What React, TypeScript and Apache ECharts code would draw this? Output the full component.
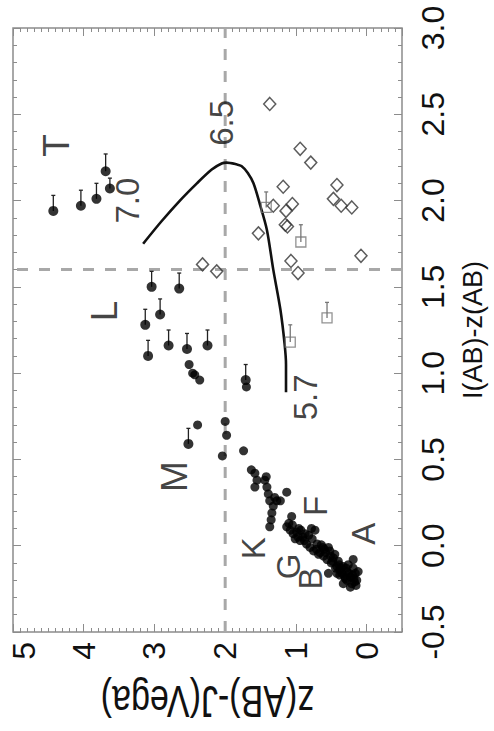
import React, { useEffect, useRef } from "react";
import * as echarts from "echarts";

// z(AB)-J(Vega) , I(AB)-z(AB)
const mainSequence: number[][] = [
  [1.74, 0.55], [1.63, 0.44], [1.58, 0.42], [1.55, 0.38], [1.58, 0.34], [1.44, 0.38], [1.41, 0.34],
  [1.39, 0.30], [1.37, 0.26], [1.32, 0.23], [1.34, 0.19], [1.27, 0.26], [1.22, 0.26], [1.13, 0.31],
  [1.37, 0.11], [1.06, 0.17], [1.30, 0.28], [1.35, 0.15], [1.42, 0.40],
  [1.13, 0.11], [1.08, 0.09], [1.04, 0.07], [0.99, 0.08], [1.01, 0.04], [0.94, 0.03], [0.90, 0.05],
  [0.85, 0.01], [0.80, -0.01], [0.78, 0.10], [0.73, 0.09], [0.75, -0.03], [0.71, -0.02], [0.66, -0.04],
  [0.61, -0.06], [0.56, -0.08], [0.54, -0.01], [0.52, -0.03], [0.50, -0.10], [0.47, -0.07], [0.42, -0.12],
  [0.40, -0.09], [0.38, -0.14], [0.35, -0.16], [0.33, -0.12], [0.28, -0.15], [0.23, -0.18], [0.19, -0.08],
  [0.16, -0.16], [0.14, -0.20], [0.21, -0.22], [0.28, -0.20], [0.38, -0.17], [0.54, -0.16], [0.42, -0.16],
  [0.31, -0.18], [0.19, -0.13], [0.93, 0.09], [0.82, 0.06], [0.64, 0.005], [0.60, -0.02], [0.45, -0.05],
  [0.26, -0.11], [0.12, -0.15], [0.23, -0.24], [0.33, -0.22], [1.10, 0.13], [0.97, 0.05], [0.88, 0.03],
  [0.70, 0.01], [0.68, -0.05], [0.58, -0.04], [0.48, -0.09], [0.44, -0.13], [0.36, -0.13], [0.30, -0.19],
  [0.25, -0.16], [0.18, -0.19], [0.15, -0.23], [0.20, -0.17], [1.05, 0.12], [0.96, 0.10], [0.87, 0.07],
  [0.77, 0.04], [0.62, -0.01], [0.51, -0.06], [0.39, -0.11], [0.29, -0.13], [0.17, -0.21],
  [2.39, 0.70], [2.00, 0.72], [1.98, 0.64], [2.04, 0.52], [2.51, 1.05], [2.46, 1.00], [2.43, 0.99],
  [2.36, 0.96], [1.70, 0.92],
];

// [z-J, I-z, upper error]
const ultracool: number[][] = [
  [4.43, 1.94, 0.09], [4.04, 1.97, 0.09], [3.82, 2.01, 0.09], [3.69, 2.17, 0.10], [3.63, 2.07, 0.06],
  [3.04, 1.50, 0.09], [2.65, 1.49, 0.09], [2.92, 1.34, 0.09], [3.13, 1.28, 0.09], [3.09, 1.10, 0.09],
  [2.80, 1.16, 0.09], [2.54, 1.14, 0.09], [2.25, 1.16, 0.09],
  [2.52, 0.59, 0.09], [1.71, 0.96, 0.09],
];

const diamonds: number[][] = [
  [1.37, 2.56], [0.94, 2.30], [0.79, 2.22], [1.18, 2.08], [0.42, 2.09], [1.32, 1.97], [1.05, 1.98],
  [0.47, 2.01], [0.36, 1.97], [0.21, 1.96], [1.14, 1.94], [1.15, 1.86], [1.12, 1.85], [1.53, 1.81],
  [0.08, 1.68], [1.07, 1.65], [0.97, 1.58], [2.32, 1.63], [2.12, 1.59],
];

const squares: number[][] = [
  [1.42, 1.96, 0.09], [0.93, 1.76, 0.10], [0.56, 1.32, 0.09], [1.08, 1.18, 0.10],
];

const modelTrack: number[][] = [
  [3.16, 1.75], [2.90, 1.88], [2.64, 2.00], [2.40, 2.10], [2.19, 2.18], [2.05, 2.215], [1.98, 2.22],
  [1.84, 2.21], [1.77, 2.20], [1.68, 2.16], [1.60, 2.10], [1.51, 1.98], [1.41, 1.83], [1.32, 1.60],
  [1.22, 1.37], [1.16, 1.17], [1.14, 1.05], [1.14, 0.89],
];

const bigLabels = [
  { name: "T", value: [4.38, 2.32] },
  { name: "L", value: [3.70, 1.36] },
  { name: "M", value: [2.71, 0.40] },
];

const smallLabels = [
  { name: "K", value: [1.60, -0.015] },
  { name: "G", value: [1.11, -0.12] },
  { name: "B", value: [0.80, -0.19] },
  { name: "F", value: [0.73, 0.23] },
  { name: "A", value: [0.05, 0.07] },
];

const trackLabels = [
  { name: "6.5", value: [2.05, 2.45] },
  { name: "7.0", value: [3.38, 2.0] },
  { name: "5.7", value: [0.87, 0.86] },
];

const zjRange = [-0.5, 5];
const izRange = [-0.5, 3];
const guideZJ = 2;
const guideIZ = 1.6;
const xTitle = "z(AB)-J(Vega)";
const yTitle = "I(AB)-z(AB)";

const FONT = "'Liberation Sans', Arial, sans-serif";
const GRAY = "#8c8c8c";
const GRID = { left: 13, top: 28, width: 389, height: 604 };

export default function App() {
  const ref = useRef<HTMLDivElement>(null);
  useEffect(() => {
    const chart = echarts.init(ref.current!, null, { renderer: "svg" });
    const majorX = (pos: string, labels: boolean) => ({
      type: "value",
      position: pos,
      min: zjRange[0],
      max: zjRange[1],
      inverse: true,
      axisLine: { show: false, onZero: false },
      splitLine: { show: false },
      axisTick: { show: true, inside: true, length: 8, lineStyle: { color: GRAY, width: 1 } },
      axisLabel: labels
        ? {
            show: true,
            rotate: 90,
            showMinLabel: false,
            margin: 10,
            fontSize: 32,
            color: "#111",
            fontFamily: FONT,
            formatter: (v: number) => (v === zjRange[1] ? `{edge|${v}}` : String(v)),
            rich: {
              edge: { padding: [22, 0, 0, 0], fontSize: 32, color: "#111", fontFamily: FONT },
            },
          }
        : { show: false },
    });
    const minorX = (pos: string) => ({
      type: "value",
      position: pos,
      min: zjRange[0],
      max: zjRange[1],
      interval: 0.1,
      inverse: true,
      axisLine: { show: false, onZero: false },
      splitLine: { show: false },
      axisTick: { show: true, inside: true, length: 4, lineStyle: { color: GRAY, width: 1 } },
      axisLabel: { show: false },
    });
    const yAx = (pos: string, labels: boolean) => ({
      type: "value",
      position: pos,
      min: izRange[0],
      max: izRange[1],
      interval: 0.5,
      axisLine: { show: false, onZero: false },
      splitLine: { show: false },
      axisTick: { show: true, inside: true, length: 8, lineStyle: { color: GRAY, width: 1 } },
      minorTick: { show: true, splitNumber: 5, length: 4, lineStyle: { color: GRAY, width: 1 } },
      axisLabel: labels
        ? {
            show: true,
            rotate: 90,
            margin: 15,
            fontSize: 32,
            color: "#111",
            fontFamily: FONT,
            formatter: (v: number) => v.toFixed(1),
          }
        : { show: false },
      ...(labels
        ? {
            name: yTitle,
            nameLocation: "middle",
            nameRotate: 90,
            nameGap: 57,
            nameTextStyle: { fontSize: 27, color: "#111", fontFamily: FONT },
          }
        : {}),
    });

    const errRender = (color: string) => (params: any, api: any) => {
      const x = api.value(0);
      const y = api.value(1);
      const e = api.value(2);
      const p0 = api.coord([x, y]);
      const p1 = api.coord([x, y + e]);
      return {
        type: "group",
        children: [
          { type: "line", shape: { x1: p0[0], y1: p0[1], x2: p1[0], y2: p1[1] }, style: { stroke: color, lineWidth: 1.3 } },
          { type: "line", shape: { x1: p1[0] - 2, y1: p1[1], x2: p1[0] + 2, y2: p1[1] }, style: { stroke: color, lineWidth: 1.3 } },
        ],
      };
    };

    const labelStyle = (size: number) => ({
      show: true,
      position: "inside",
      formatter: "{b}",
      rotate: 90,
      fontSize: size,
      color: "#111",
      fontFamily: FONT,
    });

    chart.setOption({
      animation: false,
      backgroundColor: "#fff",
      grid: {
        ...GRID,
        show: true,
        borderColor: GRAY,
        borderWidth: 1.5,
        backgroundColor: "transparent",
      },
      graphic: [
        {
          type: "text",
          x: GRID.left + GRID.width / 2,
          y: 702,
          rotation: Math.PI,
          scaleY: 1.3,
          style: {
            text: xTitle,
            fontSize: 34,
            fontFamily: FONT,
            fill: "#111",
            align: "center",
            verticalAlign: "middle",
          },
        },
      ],
      xAxis: [majorX("bottom", true), majorX("top", false), minorX("bottom"), minorX("top")],
      yAxis: [yAx("right", true), yAx("left", false)],
      series: [
        {
          type: "line",
          data: [[guideZJ, izRange[0]], [guideZJ, izRange[1]]],
          symbol: "none",
          lineStyle: { color: "#a8a8a8", width: 3, type: [11, 11] },
          silent: true,
          z: 1,
        },
        {
          type: "line",
          data: [[zjRange[0], guideIZ], [zjRange[1], guideIZ]],
          symbol: "none",
          lineStyle: { color: "#a8a8a8", width: 3, type: [11, 11] },
          silent: true,
          z: 1,
        },
        {
          type: "line",
          data: modelTrack,
          symbol: "none",
          smooth: 0.3,
          lineStyle: { color: "#111", width: 2.6 },
          z: 3,
        },
        {
          type: "custom",
          data: ultracool,
          encode: { x: 0, y: 1 },
          renderItem: errRender("#222"),
          z: 4,
        },
        {
          type: "custom",
          data: squares,
          encode: { x: 0, y: 1 },
          renderItem: errRender("#777"),
          z: 4,
        },
        {
          type: "scatter",
          data: mainSequence,
          symbol: "circle",
          symbolSize: 9,
          itemStyle: { color: "#000" },
          z: 5,
        },
        {
          type: "scatter",
          data: ultracool.map((d) => [d[0], d[1]]),
          symbol: "circle",
          symbolSize: 10,
          itemStyle: { color: "#000" },
          z: 5,
        },
        {
          type: "scatter",
          data: diamonds,
          symbol: "diamond",
          symbolSize: [12, 13],
          itemStyle: { color: "rgba(255,255,255,0)", borderColor: "#333", borderWidth: 1.5 },
          z: 5,
        },
        {
          type: "scatter",
          data: squares.map((d) => [d[0], d[1]]),
          symbol: "rect",
          symbolSize: 10,
          itemStyle: { color: "rgba(255,255,255,0)", borderColor: "#777", borderWidth: 1.3 },
          z: 5,
        },
        {
          type: "scatter",
          data: bigLabels,
          symbolSize: 0,
          label: labelStyle(37),
          z: 6,
        },
        {
          type: "scatter",
          data: smallLabels,
          symbolSize: 0,
          label: labelStyle(33),
          z: 6,
        },
        {
          type: "scatter",
          data: trackLabels,
          symbolSize: 0,
          label: labelStyle(33),
          z: 6,
        },
      ],
    });
    return () => chart.dispose();
  }, []);
  return <div ref={ref} style={{ position: "fixed", left: 0, top: 0, width: 494, height: 731 }} />;
}
